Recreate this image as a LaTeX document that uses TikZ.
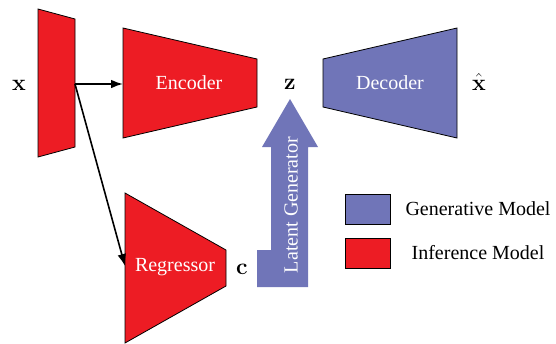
\documentclass[tikz,border=0pt]{standalone}
\usepackage[no-math]{fontspec}
\setmainfont{Liberation Serif}
\usetikzlibrary{arrows.meta}
\definecolor{infred}{RGB}{237,28,36}
\definecolor{genblue}{RGB}{112,117,184}
\tikzset{
  infblock/.style={draw=black, fill=infred, line width=0.6pt},
  genblock/.style={draw=black, fill=genblue, line width=0.6pt},
  blocktext/.style={text=white, font=\fontsize{15}{18}\selectfont},
  legtext/.style={font=\fontsize{15}{18}\selectfont},
  vartext/.style={anchor=base, font=\fontsize{17.28}{20}\selectfont},
  flow/.style={-{Latex[length=9pt,width=6.5pt]}, line width=1.2pt},
}
\begin{document}
\begin{tikzpicture}[x=0.75pt,y=0.75pt,yscale=-1,xscale=1]
\useasboundingbox (0,0) rectangle (556,343);

%Input block
\draw [infblock] (38,9) -- (75,19) -- (75,147) -- (38,157) -- cycle;
\coordinate (inout) at (75,84);
\node [vartext] (x) at (19,90) {$\mathbf{x}$};

%Encoder
\draw [infblock] (123,28) -- (257,59) -- (257,107) -- (123,138) -- cycle;
\coordinate (encin) at (123,84);
\node [blocktext] (enc) at (189,83) {Encoder};
\node [vartext] (z) at (290,89) {$\mathbf{z}$};

%Decoder
\draw [genblock] (323,59) -- (457,28) -- (457,138) -- (323,107) -- cycle;
\node [blocktext] (dec) at (390,83) {Decoder};
\node [vartext] (xhat) at (479,90) {$\hat{\mathbf{x}}$};

%Regressor
\draw [infblock] (125,193) -- (226,250) -- (226,286) -- (125,343) -- cycle;
\coordinate (regin) at (125,266);
\node [blocktext] (reg) at (175,267) {Regressor};
\node [vartext] (c) at (242,274) {$\mathbf{c}$};

%Latent generator arrow
\fill [genblue] (257,287) -- (257,250) -- (271,250) -- (271,147) -- (262,147) -- (290,99)
  -- (318,147) -- (308,147) -- (308,287) -- cycle;
\node [blocktext, rotate=90] (gen) at (291,205) {Latent Generator};

%Connections
\draw [flow] (inout) -- (encin);
\draw [flow] (inout) -- (regin);

%Legend
\draw [genblock] (345,194) rectangle (390,224);
\node [legtext] (genleg) at (478,209) {Generative Model};
\draw [infblock] (345,238) rectangle (390,268);
\node [legtext] (infleg) at (478,253) {Inference Model};

\end{tikzpicture}
\end{document}
